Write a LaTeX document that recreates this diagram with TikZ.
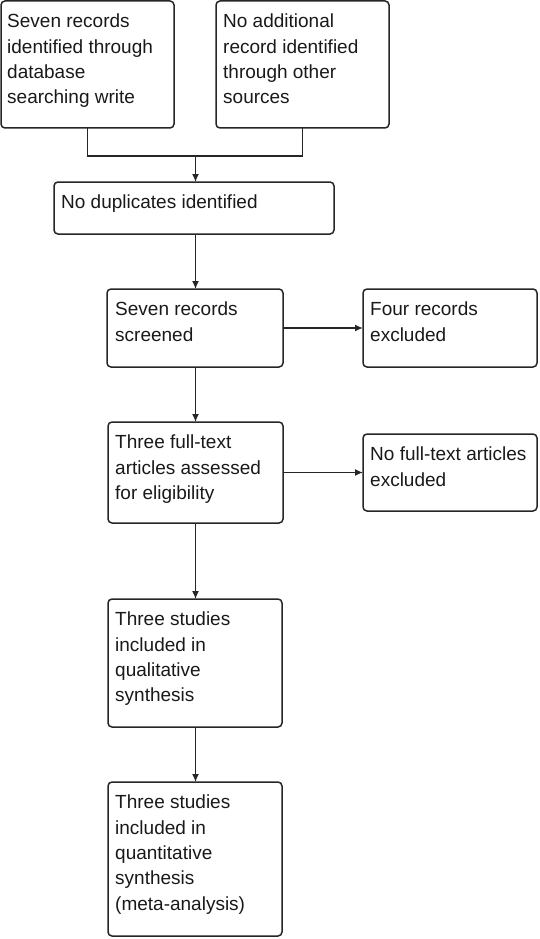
\documentclass[tikz,border=0pt]{standalone}
\usepackage{fontspec}
\setmainfont{Liberation Sans}
\usetikzlibrary{arrows.meta,calc}
\begin{document}
\begin{tikzpicture}[x=1pt,y=-1pt,
  box/.style={draw=black!85,line width=1.5pt,rounded corners=4pt,anchor=north west,inner sep=0pt,outer sep=0pt},
  txt/.style={anchor=north west,inner sep=0pt,align=left,text=black!90,font=\fontsize{19}{25.3}\selectfont},
  conn/.style={draw=black!85,line width=1.5pt},
  arr/.style={conn,-{Latex[length=8pt,width=7pt]}}]
\useasboundingbox (0,0) rectangle (539,939);
\newcommand{\bx}[5]{%
  \node[box,minimum width=#4,minimum height=#5] (#1) at (#2,#3) {};}
\bx{b1}{1}{1}{173}{127}
\bx{b2}{216}{1}{173}{127}
\bx{b3}{54}{182}{280}{52}
\bx{b4}{107}{289}{176}{78}
\bx{b5}{363}{289}{174}{78}
\bx{b6}{108}{422}{175}{101}
\bx{b7}{363}{434}{174}{77}
\bx{b8}{108}{599}{174}{128}
\bx{b9}{108}{782}{174}{154}
\node[txt] (t1) at ($(b1.north west)+(6,13)$) {Seven records\\identified through\\database\\searching write};
\node[txt] (t2) at ($(b2.north west)+(7,13)$) {No additional\\record identified\\through other\\sources};
\node[txt] (t3) at ($(b3.north west)+(7,13)$) {No duplicates identified};
\node[txt] (t4) at ($(b4.north west)+(8,13)$) {Seven records\\screened};
\node[txt] (t5) at ($(b5.north west)+(7,13)$) {Four records\\excluded};
\node[txt] (t6) at ($(b6.north west)+(7,13)$) {Three full-text\\articles assessed\\for eligibility};
\node[txt] (t7) at ($(b7.north west)+(7,13)$) {No full-text articles\\excluded};
\node[txt] (t8) at ($(b8.north west)+(7,13)$) {Three studies\\included in\\qualitative\\synthesis};
\node[txt] (t9) at ($(b9.north west)+(7,13)$) {Three studies\\included in\\quantitative\\synthesis\\(meta-analysis)};
\coordinate (jn) at (195.5,156);
\draw[conn] (b1.south) |- (jn) -| (b2.south);
\draw[arr] (jn) -- (b3.north -| jn);
\draw[arr] (b3.south -| jn) -- (b4.north -| jn);
\draw[arr] (b4.south -| jn) -- (b6.north -| jn);
\draw[arr] (b6.south -| jn) -- (b8.north -| jn);
\draw[arr] (b8.south -| jn) -- (b9.north -| jn);
\draw[arr] (b4.east) -- (b5.west);
\draw[arr] (b6.east) -- (b7.west);
\end{tikzpicture}
\end{document}
